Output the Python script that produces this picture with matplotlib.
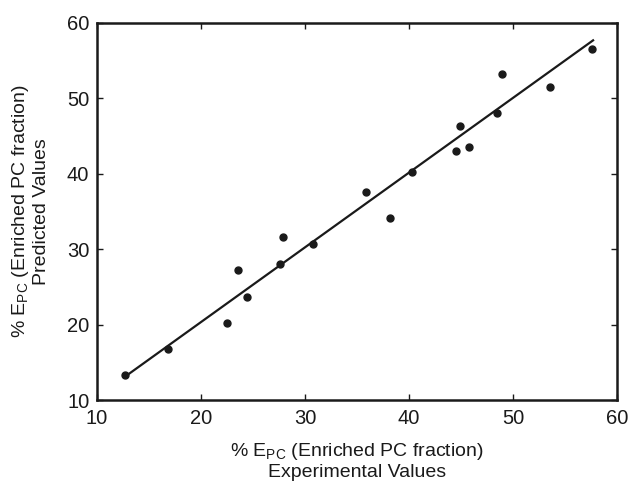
import matplotlib.pyplot as plt

plt.rcParams['font.family'] = ['Liberation Sans', 'DejaVu Sans']
plt.rcParams['mathtext.fontset'] = 'custom'
plt.rcParams['mathtext.rm'] = 'Liberation Sans'

# Valeurs
experimental = [12.7, 16.8, 22.5, 23.6, 24.4, 27.6, 27.9, 30.8, 35.9, 38.2,
                40.3, 44.5, 44.9, 45.8, 48.5, 48.9, 53.6, 57.6]
predicted = [13.3, 16.7, 20.2, 27.2, 23.7, 28.1, 31.6, 30.7, 37.6, 34.2,
             40.2, 43.0, 46.4, 43.6, 48.1, 53.2, 51.5, 56.6]

# Droite de régression (extrémités lues)
fit_x = [12.8, 57.7]
fit_y = [13.2, 57.7]

fig = plt.figure(figsize=(6.34, 4.82), dpi=100)
ax = fig.add_axes([97 / 634, 82 / 482, 520 / 634, 377 / 482])

ax.plot(fit_x, fit_y, color='#1a1a1a', linewidth=1.6, zorder=2)
ax.plot(experimental, predicted, 'o', color='#1a1a1a', markersize=5, zorder=3)

ax.set_xlim(10, 60)
ax.set_ylim(10, 60)
ax.set_xticks(range(10, 61, 10))
ax.set_yticks(range(10, 61, 10))
ax.tick_params(direction='in', top=True, right=True, length=4, width=1,
               labelsize=14.5, colors='#1a1a1a')
ax.tick_params(axis='x', pad=6.5)
ax.tick_params(axis='y', pad=5.5)
for s in ax.spines.values():
    s.set_linewidth(1.8)
    s.set_color('#1a1a1a')

ax.set_xlabel('% E$_{\\mathregular{PC}}$ (Enriched PC fraction)\nExperimental Values',
              fontsize=14, labelpad=9, color='#1a1a1a', linespacing=1.2)
ax.set_ylabel('% E$_{\\mathregular{PC}}$ (Enriched PC fraction)\nPredicted Values',
              fontsize=14, labelpad=12, color='#1a1a1a', linespacing=1.2)

plt.savefig('out.png', dpi=100)
plt.close()
